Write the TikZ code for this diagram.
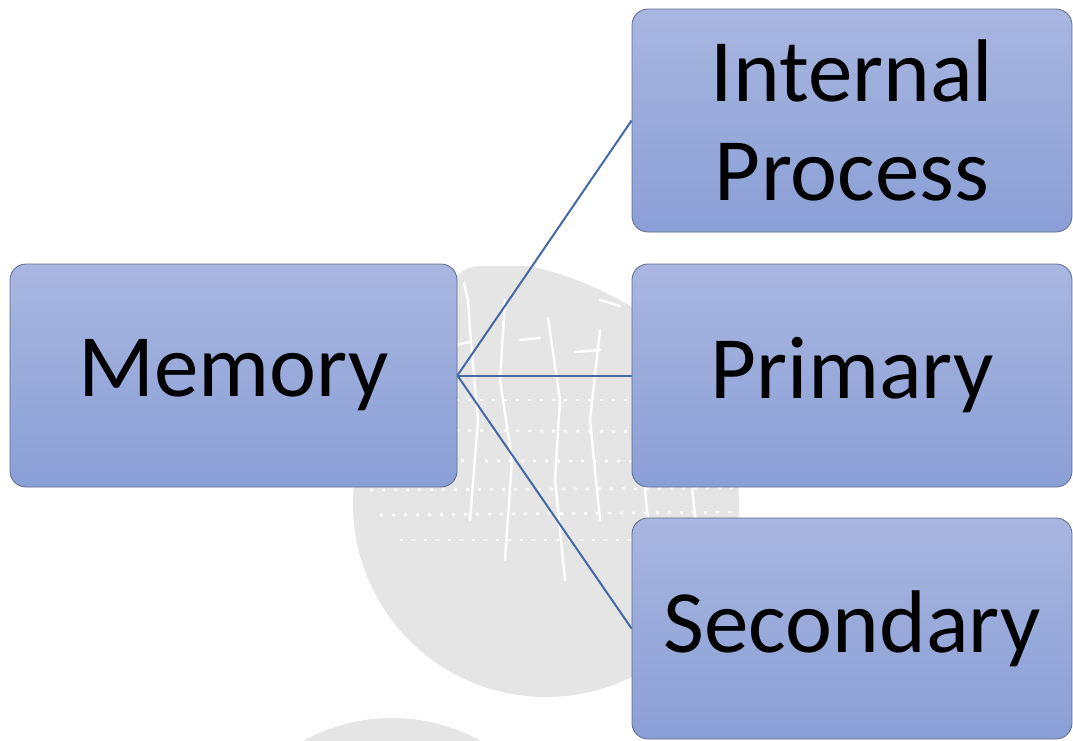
\documentclass[tikz,border=0pt]{standalone}
\usepackage{fontspec}
\setmainfont{Carlito}
\begin{document}
\begin{tikzpicture}[x=1pt,y=-1pt,
  box/.style={draw=boxline, line width=0.8pt, rounded corners=16pt,
    top color=boxtop, bottom color=boxbottom, align=center,
    font=\fontsize{89}{99}\selectfont, inner sep=0pt},
  link/.style={draw=linkblue, line width=2pt},
  mapline/.style={draw=white, line width=2.4pt, line cap=round, line join=round},
  mapdots/.style={draw=white, line width=2.6pt, dash pattern=on 3pt off 9pt}]
\definecolor{boxtop}{HTML}{A8B6E0}
\definecolor{boxbottom}{HTML}{8A9FD6}
\definecolor{boxline}{HTML}{5C6A8A}
\definecolor{linkblue}{HTML}{4468A8}
\definecolor{wmgray}{HTML}{E5E5E5}
\useasboundingbox (0,0) rectangle (1073,740);
\begin{scope}
\clip (0,0) rectangle (1073,740);
% watermark: round map badge and a second badge below it
\fill[wmgray] (392,901) circle (183);
\path[fill=wmgray] (546,504) circle (193);
\fill[wmgray] (448,300) .. controls (452,280) and (458,268) .. (478,266)
  -- (530,266) .. controls (570,275) and (610,292) .. (650,318)
  -- (700,345) -- (600,420) -- (440,420) -- cycle;
\begin{scope}
\clip (546,504) circle (193) (448,300) -- (478,266) -- (530,266) -- (650,318) -- (700,345) -- (600,420) -- (440,420) -- cycle;
\draw[mapline] (462,275) -- (468,300) -- (470,330) -- (478,420) -- (470,520);
\draw[mapline] (505,300) -- (500,380) -- (512,460) -- (505,560);
\draw[mapline] (548,318) -- (560,400) -- (555,480) -- (565,580);
\draw[mapline] (600,330) -- (590,420) -- (600,520);
\draw[mapline] (655,345) -- (640,440) -- (650,540);
\draw[mapline] (700,380) -- (690,470) -- (700,560);
\draw[mapline] (600,300) -- (620,306);
\draw[mapline] (455,345) -- (470,342);
\draw[mapline] (520,340) -- (540,338);
\draw[mapline] (575,352) -- (600,350);
\draw[mapdots] (360,400) -- (740,400);
\draw[mapdots] (360,430) -- (740,432);
\draw[mapdots] (365,460) -- (740,462);
\draw[mapdots] (370,490) -- (740,488);
\draw[mapdots] (380,515) -- (740,512);
\draw[mapdots] (400,540) -- (740,540);
\end{scope}
\end{scope}
% tree of boxes
\node[box, minimum width=447pt, minimum height=223pt] (mem) at (233.5,375.5) {Memory};
\node[box, minimum width=440pt, minimum height=223pt] (int) at (852,120.5) {Internal\\Process};
\node[box, minimum width=440pt, minimum height=223pt] (pri) at (852,375.5) {Primary};
\node[box, minimum width=440pt, minimum height=221pt] (sec) at (852,628.5) {Secondary};
\draw[link] (mem.east) -- (int.west);
\draw[link] (mem.east) -- (pri.west);
\draw[link] (mem.east) -- (sec.west);
\end{tikzpicture}
\end{document}
